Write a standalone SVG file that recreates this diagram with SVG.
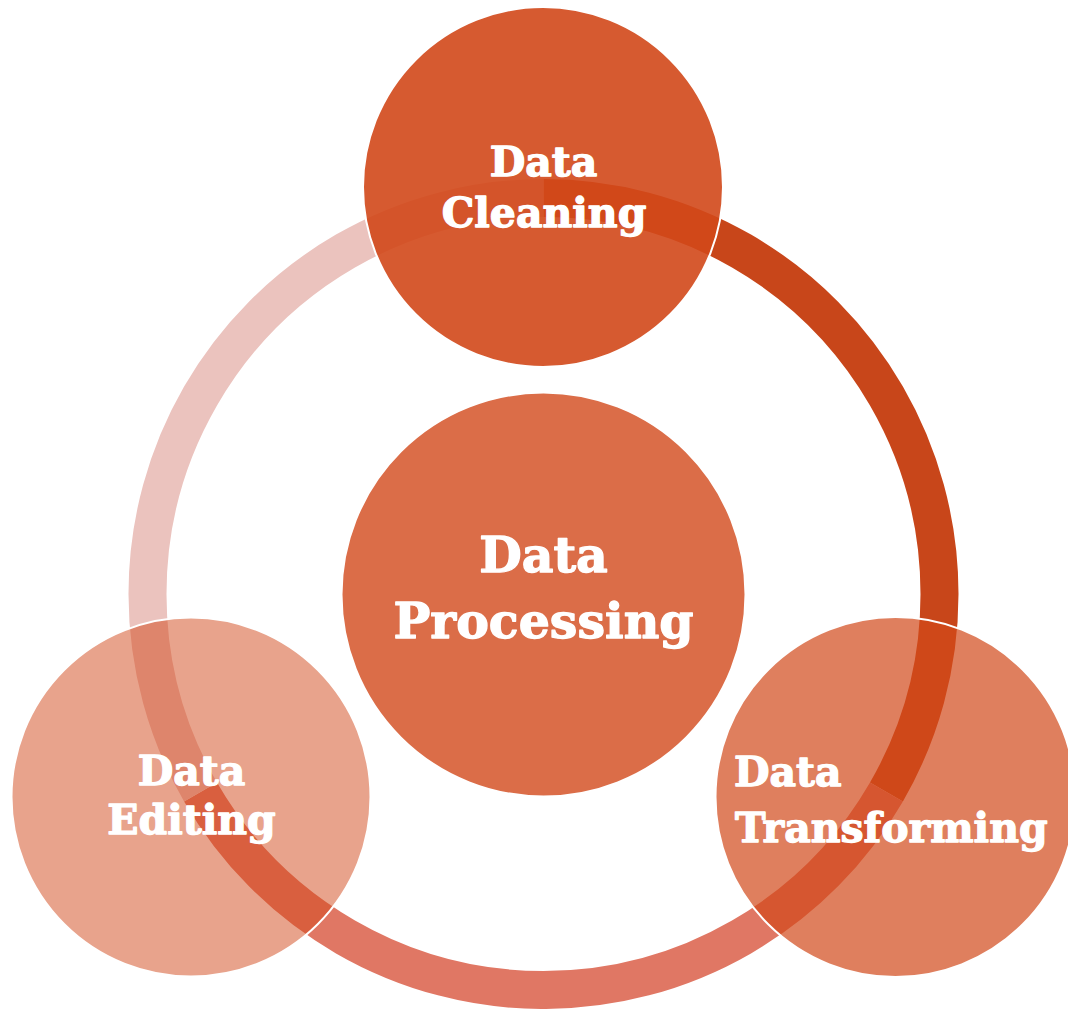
<svg xmlns="http://www.w3.org/2000/svg" width="1068" height="1009" viewBox="0 0 1068 1009">
  <style>
    .seg { fill: none; stroke-width: 38; stroke-linecap: butt; }
    .node { fill: rgb(210,72,26); stroke: #ffffff; stroke-width: 2; }
    .lbl { font-family: "DejaVu Serif", "Liberation Serif", serif; font-weight: bold; fill: #ffffff; stroke: #ffffff; stroke-width: 1.3; stroke-linejoin: round; }
    .sm { font-size: 41px; }
    .lg { font-size: 49px; }
  </style>
  <rect x="0" y="0" width="1068" height="1009" fill="#ffffff"/>
  <g id="connectors">
    <path class="seg" stroke="#C8461A" d="M 543.5 198 A 396 396 0 0 1 886.45 792"/>
    <path class="seg" stroke="#E07764" d="M 886.45 792 A 396 396 0 0 1 200.55 792"/>
    <path class="seg" stroke="#EBC3BE" d="M 200.55 792 A 396 396 0 0 1 543.5 198"/>
  </g>
  <g id="node-cleaning">
    <circle class="node" cx="543" cy="187" r="180" fill-opacity="0.9"/>
    <text class="lbl sm" text-anchor="middle" x="543.5" y="176">Data</text>
    <text class="lbl sm" text-anchor="middle" x="544" y="227">Cleaning</text>
  </g>
  <g id="node-transforming">
    <circle class="node" cx="895.5" cy="797" r="180" fill-opacity="0.7"/>
    <text class="lbl sm" x="734" y="786">Data</text>
    <text class="lbl sm" x="735" y="842">Transforming</text>
  </g>
  <g id="node-editing">
    <circle class="node" cx="191" cy="797" r="179.5" fill-opacity="0.5"/>
    <text class="lbl sm" text-anchor="middle" x="191.5" y="785">Data</text>
    <text class="lbl sm" text-anchor="middle" x="191.5" y="834">Editing</text>
  </g>
  <g id="node-processing">
    <circle class="node" cx="543.5" cy="594.5" r="202" fill-opacity="0.8"/>
    <text class="lbl lg" text-anchor="middle" x="543.5" y="572">Data</text>
    <text class="lbl lg" text-anchor="middle" x="543.5" y="638">Processing</text>
  </g>
</svg>
